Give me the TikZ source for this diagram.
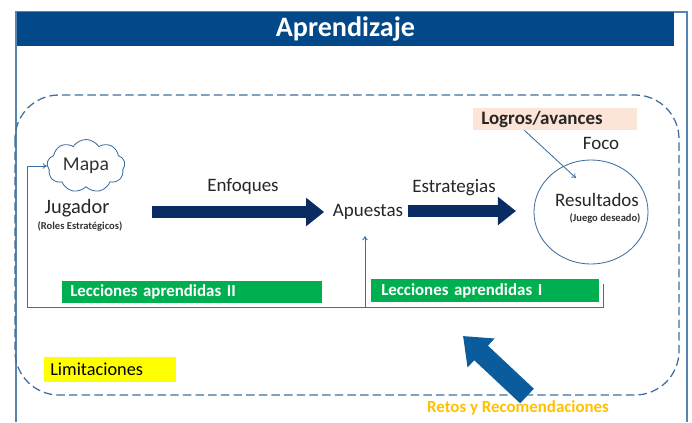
\documentclass[tikz,border=0pt]{standalone}
\usepackage{fontspec}
\setmainfont{Carlito}
\usetikzlibrary{shapes.geometric,shapes.symbols,positioning,arrows.meta}

\definecolor{azulTitulo}{HTML}{03498A}
\definecolor{azulMarco}{HTML}{5A84B0}
\definecolor{azulLinea}{HTML}{3D6E9E}
\definecolor{azulOscuro}{HTML}{0B2B63}
\definecolor{azulRetos}{HTML}{0B5C9C}
\definecolor{verdeLeccion}{HTML}{00B050}
\definecolor{amarilloLim}{HTML}{FFFF00}
\definecolor{salmonLogro}{HTML}{FCE4D6}
\definecolor{naranjaRetos}{HTML}{FFC000}

\tikzset{
	titulo/.style={rectangle, fill=azulTitulo, text=white,
		font=\bfseries\fontsize{20}{22}\selectfont, minimum width=16.425cm,
		minimum height=0.85cm, inner sep=0pt},
	leccion/.style={rectangle, fill=verdeLeccion, text=white, anchor=west,
		font=\bfseries\fontsize{12}{14}\selectfont, minimum height=0.55cm,
		align=left, inner xsep=0.2cm, inner ysep=0pt},
	etiqueta/.style={font=\fontsize{13.5}{15}\selectfont, text=black!85, inner sep=2pt},
	nota/.style={font=\bfseries\fontsize{7.5}{9}\selectfont, text=black!80, inner sep=1pt},
	flechaGruesa/.style={draw=azulOscuro, line width=0.3cm,
		-{Triangle[length=0.45cm, width=0.68cm]}},
	linea/.style={draw=azulLinea, line width=0.6pt, -{To[length=3pt, width=4pt]}}
}

\begin{document}
\begin{tikzpicture}[x=0.025cm, y=-0.025cm]
	\useasboundingbox (0,0) rectangle (692,422);
	
	% marco y titulo
	\draw[azulMarco, line width=0.8pt] (16,422) -- (16,12) -- (687,12) -- (687,422);
	\node[titulo] (root) at (345.5,29) {Aprendizaje};
	
	% zona de juego
	\draw[azulLinea, line width=0.9pt, dash pattern=on 6pt off 3pt, rounded corners=1.1cm]
		(15,95) rectangle (679,395);
	
	\node[cloud, cloud puffs=9, cloud puff arc=115, aspect=1.5, draw=azulLinea, line width=0.6pt,
		minimum width=1.95cm, minimum height=1.3cm, inner sep=0pt,
		font=\fontsize{14}{16}\selectfont, text=black!80] (mapa) at (86,166) {Mapa};
	\node[etiqueta, font=\fontsize{14.5}{16}\selectfont] (jugador) at (77,208) {Jugador};
	\node[nota] (roles) at (80,226) {(Roles Estratégicos)};
	
	\node[etiqueta] (apuestas) at (368,212) {Apuestas};
	\node[etiqueta] (enfoques) at (243,187) {Enfoques};
	\node[etiqueta] (estrategias) at (454,188) {Estrategias};
	
	\node[ellipse, draw=azulLinea, line width=0.6pt, minimum width=2.85cm,
		minimum height=2.6cm] (res) at (591,212) {};
	\node[etiqueta] (resultados) at (597,200) {Resultados};
	\node[nota] (juego) at (605,218) {(Juego deseado)};
	\node[etiqueta] (foco) at (601,143) {Foco};
	
	\node[rectangle, fill=salmonLogro, anchor=west, minimum width=4.1cm, minimum height=0.55cm,
		text width=3.7cm, align=left, inner xsep=0.2cm, inner ysep=0pt,
		font=\bfseries\fontsize{13.5}{15}\selectfont, text=black!85] (logros) at (473,119) {Logros/avances};
	
	\node[leccion, minimum width=6.5cm, text width=6.1cm] (lecII) at (62,291.5) {Lecciones aprendidas II};
	\node[leccion, minimum width=5.625cm, minimum height=0.575cm, text width=5.2cm,
		inner xsep=0.25cm] (lecI) at (371,290.5) {Lecciones aprendidas I};
	
	\node[rectangle, fill=amarilloLim, anchor=west, minimum width=3.275cm, minimum height=0.625cm,
		text width=3cm, align=left, inner xsep=0.15cm, inner ysep=0pt,
		font=\fontsize{13}{15}\selectfont, text=black] (limit) at (44,369.5) {Limitaciones};
	
	\node[font=\bfseries\fontsize{12}{14}\selectfont, text=naranjaRetos, inner sep=1pt] (retos) at (518,408)
		{Retos y Recomendaciones};
	
	% flechas
	\coordinate (enfIni) at (152,212);
	\coordinate (estFin) at (516,211);
	\draw[flechaGruesa] (enfIni) -- ([xshift=-4]apuestas.west);
	\draw[flechaGruesa] ([xshift=1]apuestas.east |- estFin) -- (estFin);
	
	\coordinate (retroIni) at (603,284);
	\coordinate (retroEsq) at (27,307);
	\coordinate (retroMed) at (365,307);
	\draw[linea] (retroIni) |- (retroEsq) |- (mapa.west);
	\draw[linea] (retroMed) -- (365,236);
	
	\draw[linea] ([xshift=-22]logros.south) -- ([shift={(-15,-34)}]res.center);
	
	\coordinate (retosIni) at (527,396);
	\coordinate (retosFin) at (463,336);
	\draw[azulRetos, line width=0.5cm, -{Triangle[length=0.62cm, width=0.95cm]}] (retosIni) -- (retosFin);
\end{tikzpicture}
\end{document}
